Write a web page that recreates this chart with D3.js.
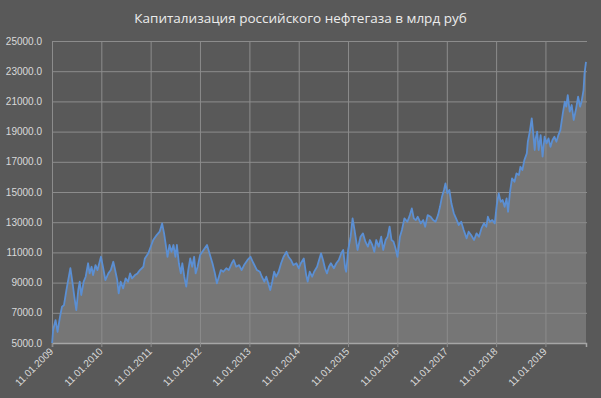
<!DOCTYPE html>
<html lang="ru">
<head>
    <meta charset="UTF-8">
    <title>Капитализация российского нефтегаза</title>
    <style>
        html, body {
            margin: 0;
            padding: 0;
            background: #595959;
        }
        .tick-label {
            font: 10px "Liberation Sans", Arial, sans-serif;
            fill: #d9d9d9;
        }
        .title {
            font: 13.5px "Open Sans", sans-serif;
            fill: #ececec;
        }
        .grid line {
            stroke: #8c8c8c;
            stroke-width: 1px;
        }
    </style>
    <script src="https://d3js.org/d3.v7.min.js"></script>
</head>
<body>
    <div id="chart"></div>
    <script>
        // decimal years
        const years = [
            2009.03, 2009.05, 2009.10, 2009.14, 2009.19, 2009.23, 2009.27, 2009.32, 2009.35, 2009.40,
            2009.44, 2009.48, 2009.52, 2009.56, 2009.59, 2009.62, 2009.67, 2009.71, 2009.76, 2009.79,
            2009.83, 2009.86, 2009.91, 2009.95, 2010.02, 2010.06, 2010.11, 2010.17, 2010.22, 2010.27,
            2010.30, 2010.35, 2010.38, 2010.42, 2010.47, 2010.52, 2010.57, 2010.61, 2010.65, 2010.71,
            2010.76, 2010.81, 2010.88, 2010.91, 2010.98, 2011.08, 2011.15, 2011.21, 2011.26, 2011.30,
            2011.34, 2011.37, 2011.41, 2011.45, 2011.49, 2011.53, 2011.56, 2011.60, 2011.64, 2011.67,
            2011.71, 2011.75, 2011.79, 2011.83, 2011.87, 2011.91, 2011.94, 2011.98, 2012.03, 2012.10,
            2012.17, 2012.22, 2012.28, 2012.33, 2012.37, 2012.41, 2012.45, 2012.50, 2012.56, 2012.61,
            2012.67, 2012.71, 2012.76, 2012.82, 2012.87, 2012.92, 2012.99, 2013.05, 2013.11, 2013.18,
            2013.24, 2013.28, 2013.33, 2013.37, 2013.42, 2013.45, 2013.49, 2013.53, 2013.57, 2013.62,
            2013.67, 2013.72, 2013.78, 2013.82, 2013.87, 2013.92, 2013.98, 2014.03, 2014.07, 2014.13,
            2014.18, 2014.21, 2014.25, 2014.30, 2014.34, 2014.40, 2014.44, 2014.48, 2014.52, 2014.56,
            2014.60, 2014.64, 2014.68, 2014.74, 2014.79, 2014.84, 2014.89, 2014.93, 2014.97, 2014.99,
            2015.03, 2015.08, 2015.12, 2015.16, 2015.22, 2015.28, 2015.33, 2015.38, 2015.43, 2015.47,
            2015.52, 2015.56, 2015.60, 2015.65, 2015.70, 2015.74, 2015.79, 2015.83, 2015.87, 2015.91,
            2015.95, 2015.99, 2016.03, 2016.08, 2016.12, 2016.17, 2016.23, 2016.28, 2016.32, 2016.36,
            2016.40, 2016.44, 2016.50, 2016.55, 2016.59, 2016.64, 2016.70, 2016.75, 2016.80, 2016.85,
            2016.89, 2016.93, 2016.97, 2017.00, 2017.04, 2017.08, 2017.12, 2017.17, 2017.23, 2017.27,
            2017.32, 2017.37, 2017.43, 2017.47, 2017.52, 2017.58, 2017.63, 2017.68, 2017.73, 2017.78,
            2017.83, 2017.86, 2017.90, 2017.95, 2018.00, 2018.04, 2018.08, 2018.12, 2018.16, 2018.20,
            2018.24, 2018.27, 2018.31, 2018.35, 2018.40, 2018.44, 2018.49, 2018.52, 2018.56, 2018.60,
            2018.65, 2018.67, 2018.71, 2018.75, 2018.78, 2018.81, 2018.83, 2018.86, 2018.89, 2018.93,
            2018.97, 2019.01, 2019.05, 2019.09, 2019.13, 2019.17, 2019.21, 2019.25, 2019.29, 2019.33,
            2019.38, 2019.42, 2019.45, 2019.48, 2019.52, 2019.56, 2019.60, 2019.65, 2019.69, 2019.73,
            2019.76, 2019.80, 2019.82, 2019.85
        ];

        // capitalization, bn rub
        const caps = [
            5000, 5860, 6520, 5730, 6740, 7400, 7510, 8510, 9060, 9950,
            9060, 8070, 7180, 8510, 9060, 8180, 9060, 9390, 10280, 9610,
            10050, 9500, 10160, 9830, 10710, 10050, 9170, 9610, 9830, 10380,
            9950, 9170, 8290, 9060, 8620, 9280, 9060, 9610, 9280, 9500,
            9610, 9830, 10050, 10600, 10940, 11820, 12150, 12370, 12920, 12260,
            11380, 10710, 11490, 11040, 11490, 10710, 11490, 10280, 9610, 10280,
            9390, 8730, 9830, 10600, 10050, 10710, 9610, 10050, 10820, 11160,
            11490, 10940, 10280, 9610, 8950, 9390, 9830, 9720, 9950, 9830,
            10280, 10500, 10050, 10160, 9830, 10160, 10500, 10710, 10280, 9830,
            9720, 9390, 9060, 9390, 8840, 8510, 9060, 9720, 9390, 9720,
            10280, 10710, 11040, 10710, 10500, 10160, 10280, 9950, 10280, 10600,
            9500, 9060, 9720, 9390, 9720, 10050, 10500, 10940, 10500, 9950,
            9610, 10050, 10280, 9950, 10280, 10500, 10940, 11160, 9950, 9720,
            11160, 12040, 13250, 12480, 11160, 12040, 12260, 11710, 11380, 11820,
            11490, 11040, 11820, 11380, 12040, 11160, 11820, 12040, 12700, 11820,
            11710, 11270, 10710, 12040, 12480, 13250, 13030, 13470, 13910, 13250,
            13140, 13360, 12920, 13140, 12700, 13470, 13360, 13140, 13030, 13470,
            14020, 14690, 15130, 15570, 14910, 15130, 14250, 13590, 13140, 12810,
            13030, 12480, 11930, 12370, 12150, 11820, 12260, 12040, 12590, 12920,
            12700, 13360, 13030, 13140, 12920, 14140, 14910, 14350, 14470, 14020,
            14580, 13690, 15020, 15900, 15680, 16230, 16120, 16670, 16450, 17110,
            17560, 18330, 19000, 19880, 18880, 17780, 18550, 19000, 17780, 18770,
            17340, 18660, 18220, 18550, 17990, 18440, 18660, 18330, 18770, 19100,
            20210, 20980, 20650, 21420, 20320, 20760, 19770, 20540, 21310, 20650,
            20980, 21750, 22860, 23620
        ];

        const tickYears = [2009, 2010, 2011, 2012, 2013, 2014, 2015, 2016, 2017, 2018, 2019];
        const yTicks = [5000, 7000, 9000, 11000, 13000, 15000, 17000, 19000, 21000, 23000, 25000];
        const title = "Капитализация российского нефтегаза в млрд руб";

        // decimal year -> Date
        function toDate(y) {
            const yr = Math.floor(y);
            const start = new Date(yr, 0, 1);
            const end = new Date(yr + 1, 0, 1);
            return new Date(start.getTime() + (y - yr) * (end - start));
        }

        const data = years.map((y, i) => ({ date: toDate(y), value: caps[i] }));
        const tickDates = tickYears.map(y => new Date(y, 0, 11));

        const width = 601;
        const height = 398;
        const margin = { top: 41, right: 15, bottom: 55, left: 52 };

        const svg = d3.select("#chart").append("svg")
            .attr("width", width)
            .attr("height", height);

        svg.append("rect")
            .attr("width", width)
            .attr("height", height)
            .attr("fill", "#595959");

        const x = d3.scaleTime()
            .domain([tickDates[0], data[data.length - 1].date])
            .range([margin.left, width - margin.right]);

        const y = d3.scaleLinear()
            .domain([5000, 25000])
            .range([height - margin.bottom, margin.top]);

        // area under the line
        const area = d3.area()
            .x(d => x(d.date))
            .y0(y(5000))
            .y1(d => y(d.value));

        svg.append("path")
            .datum(data)
            .attr("fill", "#767676")
            .attr("d", area);

        // horizontal grid
        svg.append("g")
            .attr("class", "grid")
            .attr("transform", `translate(${margin.left},0)`)
            .call(d3.axisLeft(y).tickValues(yTicks)
                .tickSize(-(width - margin.left - margin.right + 1))
                .tickFormat(""))
            .call(g => g.select(".domain").remove());

        // vertical grid + tick marks
        svg.append("g")
            .attr("class", "grid")
            .attr("transform", `translate(0,${height - margin.bottom})`)
            .call(d3.axisBottom(x).tickValues(tickDates)
                .tickSizeInner(-(height - margin.top - margin.bottom))
                .tickSizeOuter(0)
                .tickFormat(""))
            .call(g => g.select(".domain").remove());

        svg.append("g")
            .attr("class", "grid")
            .attr("transform", `translate(0,${height - margin.bottom})`)
            .call(d3.axisBottom(x).tickValues(tickDates)
                .tickSize(4)
                .tickFormat(""))
            .call(g => g.select(".domain").attr("stroke", "#a6a6a6").attr("stroke-width", 1.5));

        // y labels
        svg.append("g")
            .selectAll("text")
            .data(yTicks)
            .join("text")
            .attr("class", "tick-label")
            .attr("x", margin.left - 10)
            .attr("y", d => y(d))
            .attr("dy", "0.35em")
            .attr("text-anchor", "end")
            .text(d => d3.format(".1f")(d));

        // x labels, rotated
        const fmt = d3.timeFormat("%d.%m.%Y");
        svg.append("g")
            .selectAll("text")
            .data(tickDates)
            .join("text")
            .attr("class", "tick-label")
            .attr("text-anchor", "end")
            .attr("transform", d => `translate(${x(d) + 2},${height - margin.bottom + 9}) rotate(-45)`)
            .text(d => fmt(d));

        // line
        const line = d3.line()
            .x(d => x(d.date))
            .y(d => y(d.value));

        svg.append("path")
            .datum(data)
            .attr("fill", "none")
            .attr("stroke", "#5b8fd3")
            .attr("stroke-width", 1.8)
            .attr("stroke-linejoin", "round")
            .attr("d", line);

        svg.append("text")
            .attr("class", "title")
            .attr("x", width / 2)
            .attr("y", 23)
            .attr("text-anchor", "middle")
            .text(title);
    </script>
</body>
</html>
